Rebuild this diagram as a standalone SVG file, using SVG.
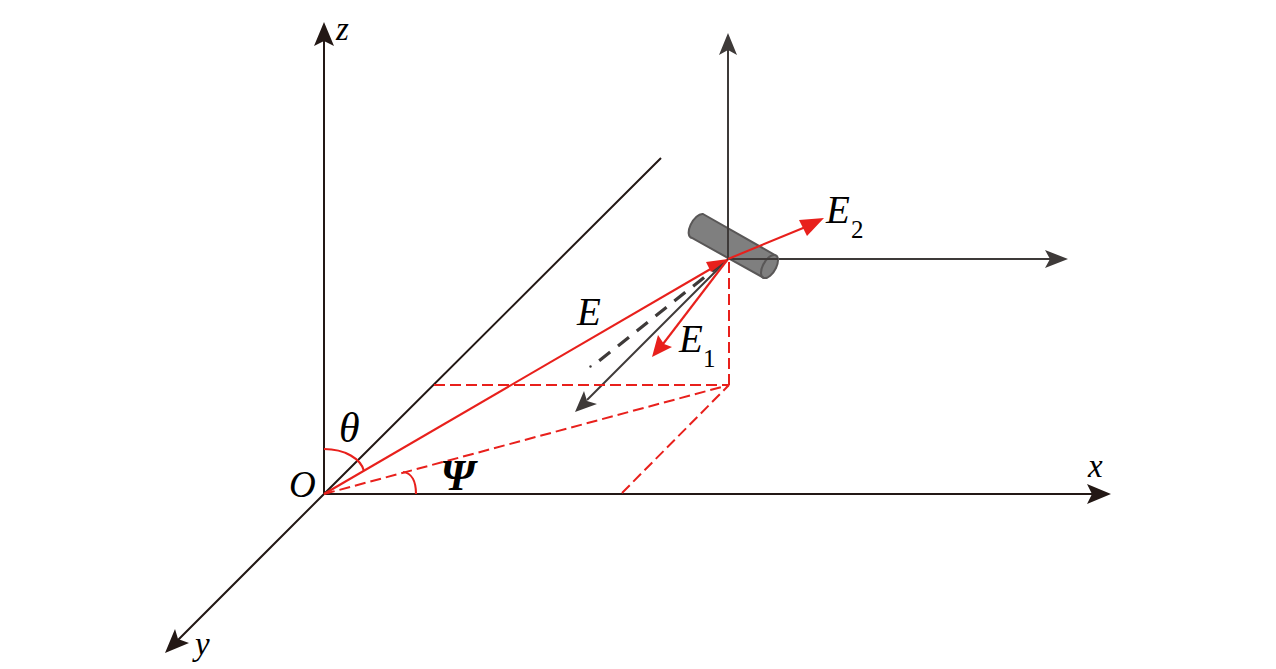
<svg xmlns="http://www.w3.org/2000/svg" width="1276" height="669" viewBox="0 0 1276 669">
<style>
.ax{fill:none;stroke:#231815;stroke-width:2}
.gr{fill:none;stroke:#3e3a39;stroke-width:2}
.rd{fill:none;stroke:#e8201c;stroke-width:2.1}
.ds{fill:none;stroke:#e8201c;stroke-width:2;stroke-dasharray:11 5}
.t{font-family:"Liberation Serif",serif;font-style:italic;fill:#000}
.s{font-family:"Liberation Serif",serif;fill:#000;font-size:25px}
.hb{fill:#231815}.hg{fill:#3e3a39}.hr{fill:#e8201c}
</style>
<rect width="1276" height="669" fill="#fff"/>
<g id="connectors">
<path class="ax" d="M324 494V40"/><polygon class="hb" points="324,22 334,46 324,41 314,46"/>
<path class="ax" d="M324 494H1095"/><polygon class="hb" points="1111,494 1087,504 1092,494 1087,484"/>
<path class="ax" d="M661 158L324 494L178 640"/><polygon class="hb" points="165,653 175,629 178,639 189,643"/>
<path class="gr" d="M728 259V50"/><polygon class="hg" points="728,33 737,55 728,50 719,55"/>
<path class="gr" d="M728 259H1050"/><polygon class="hg" points="1068,259 1045,268 1050,259 1045,250"/>
<path class="gr" d="M728 259L587 400"/><polygon class="hg" points="575,412 584,391 587,401 597,404"/>
<path d="M726 260L599 361" fill="none" stroke="#3e3a39" stroke-width="3.2" stroke-dasharray="14 10" stroke-dashoffset="-4"/>
<circle cx="590.500" cy="366.500" r="1.200" fill="#3e3a39"/>
<path class="ds" d="M729 262V385"/>
<path class="ds" d="M434 385H729"/>
<path class="ds" d="M324 494L729 385"/>
<path class="ds" d="M622 493L729 385"/>
<path class="rd" d="M324 494L714 267"/><polygon class="hr" points="728,259 711,272 706,262"/>
<path class="rd" d="M728 259L663 344"/><polygon class="hr" points="652,357 658,335 664,344 672,347"/>
<path class="rd" d="M324 449C345 449 361 459 364 471 M403 472C412 473 416 482 416 494"/>
</g>
<g id="antenna">
<path d="M703 214L775 255A6 12 30 0 1 764 278L692 238A6 12 30 0 1 703 214Z" fill="#7f7f7f" stroke="#595757" stroke-width="2"/>
<path d="M775 255A6 12 30 0 0 764 278" fill="none" stroke="#595757" stroke-width="2"/>
</g>
<g id="antenna-axes">
<path class="gr" d="M728 213V259H778"/>
<path class="rd" d="M728 259L808 226"/><polygon class="hr" points="824,218 807,236 803,228 799,220"/>
</g>
<g id="labels">
<text class="t" x="336" y="40" font-size="33">z</text>
<text class="t" x="1088" y="477" font-size="33">x</text>
<text class="t" x="195" y="655" font-size="33">y</text>
<text class="t" x="289" y="497" font-size="37">O</text>
<text class="t" x="339" y="442" font-size="42">θ</text>
<text x="440" y="490" font-size="44" font-weight="bold" font-style="italic" font-family="Liberation Serif, serif">Ψ</text>
<text class="t" x="577" y="325" font-size="39">E</text>
<text class="t" x="679" y="352" font-size="39">E</text><text class="s" x="703" y="367">1</text>
<text class="t" x="826" y="223" font-size="39">E</text><text class="s" x="851" y="238">2</text>
</g>
</svg>
